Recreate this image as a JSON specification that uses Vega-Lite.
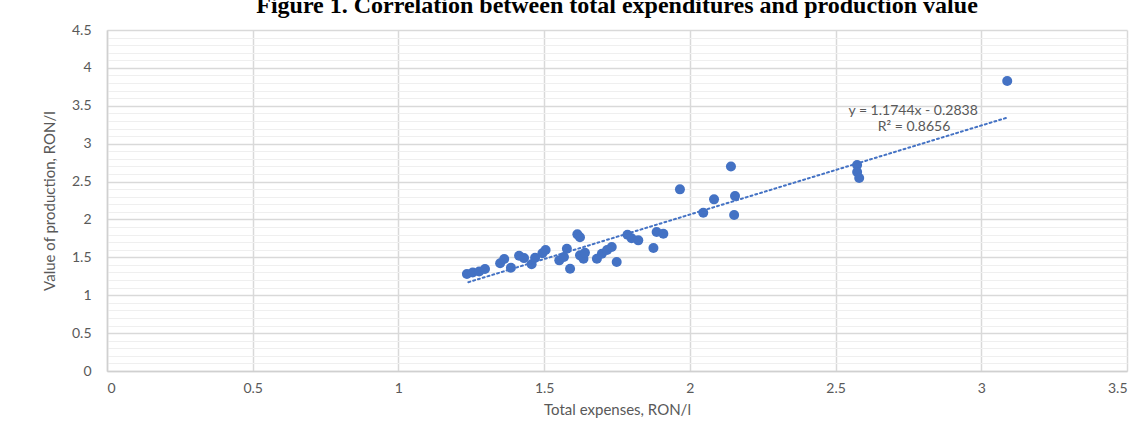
{
  "$schema": "https://vega.github.io/schema/vega-lite/v6.json",
  "width": 1020,
  "height": 341,
  "autosize": "none",
  "padding": {"left": 107, "top": 30, "right": 20, "bottom": 57},
  "background": "white",
  "title": {
    "text": "Figure 1. Correlation between total expenditures and production value",
    "font": "Liberation Serif",
    "fontSize": 24,
    "fontWeight": "bold",
    "color": "#000000",
    "frame": "group",
    "anchor": "middle",
    "baseline": "bottom",
    "offset": 0,
    "dy": 19
  },
  "datasets": {
    "points": [
      {"x": 1.235, "y": 1.28}, {"x": 1.255, "y": 1.30}, {"x": 1.277, "y": 1.313}, {"x": 1.297, "y": 1.346},
      {"x": 1.349, "y": 1.421}, {"x": 1.363, "y": 1.478}, {"x": 1.386, "y": 1.363}, {"x": 1.414, "y": 1.521},
      {"x": 1.431, "y": 1.49}, {"x": 1.457, "y": 1.408}, {"x": 1.469, "y": 1.495}, {"x": 1.494, "y": 1.553},
      {"x": 1.505, "y": 1.596}, {"x": 1.552, "y": 1.46}, {"x": 1.578, "y": 1.613}, {"x": 1.568, "y": 1.504},
      {"x": 1.589, "y": 1.35}, {"x": 1.614, "y": 1.803}, {"x": 1.623, "y": 1.764}, {"x": 1.623, "y": 1.526},
      {"x": 1.635, "y": 1.481}, {"x": 1.64, "y": 1.561}, {"x": 1.681, "y": 1.481}, {"x": 1.698, "y": 1.547},
      {"x": 1.716, "y": 1.596}, {"x": 1.732, "y": 1.636}, {"x": 1.749, "y": 1.438}, {"x": 1.786, "y": 1.798},
      {"x": 1.80, "y": 1.751}, {"x": 1.823, "y": 1.724}, {"x": 1.875, "y": 1.623}, {"x": 1.886, "y": 1.834},
      {"x": 1.909, "y": 1.811}, {"x": 1.966, "y": 2.397}, {"x": 2.046, "y": 2.088}, {"x": 2.083, "y": 2.265},
      {"x": 2.141, "y": 2.698}, {"x": 2.155, "y": 2.309}, {"x": 2.152, "y": 2.058}, {"x": 2.574, "y": 2.718},
      {"x": 2.574, "y": 2.625}, {"x": 2.581, "y": 2.546}, {"x": 3.089, "y": 3.826}
    ],
    "trend": [
      {"x": 1.24, "y": 1.172},
      {"x": 3.089, "y": 3.344}
    ],
    "labels": [
      {"x": 2.766, "y": 3.434, "label": "y = 1.1744x - 0.2838"},
      {"x": 2.769, "y": 3.223, "label": "R² = 0.8656"}
    ]
  },
  "layer": [
    {
      "data": {"name": "points"},
      "mark": {"type": "circle", "size": 100, "opacity": 1, "color": "#4472C4"},
      "encoding": {
        "x": {
          "field": "x", "type": "quantitative",
          "scale": {"domain": [0, 3.5], "nice": false, "zero": false},
          "axis": {
            "values": [0, 0.5, 1, 1.5, 2, 2.5, 3, 3.5],
            "format": "~g",
            "labelPadding": 10,
            "titlePadding": 7,
            "grid": true,
            "title": "Total expenses, RON/l"
          }
        },
        "y": {
          "field": "y", "type": "quantitative",
          "scale": {"domain": [0, 4.5], "nice": false, "zero": false},
          "axis": {
            "orient": "right",
            "values": [0.1,0.2,0.3,0.4,0.6,0.7,0.8,0.9,1.1,1.2,1.3,1.4,1.6,1.7,1.8,1.9,2.1,2.2,2.3,2.4,2.6,2.7,2.8,2.9,3.1,3.2,3.3,3.4,3.6,3.7,3.8,3.9,4.1,4.2,4.3,4.4],
            "grid": true, "gridColor": "#efefef", "gridWidth": 1.2,
            "labels": false, "ticks": false, "domain": false, "title": null
          }
        }
      }
    },
    {
      "data": {"name": "trend"},
      "mark": {"type": "line", "color": "#4472C4", "strokeWidth": 2, "strokeDash": [2, 3], "strokeCap": "round"},
      "encoding": {
        "x": {"field": "x", "type": "quantitative", "title": "Total expenses, RON/l"},
        "y": {
          "field": "y", "type": "quantitative",
          "axis": {
            "orient": "left",
            "values": [0, 0.5, 1, 1.5, 2, 2.5, 3, 3.5, 4, 4.5],
            "format": "~g",
            "title": "Value of production, RON/l",
            "grid": true
          }
        }
      }
    },
    {
      "data": {"name": "labels"},
      "mark": {"type": "text", "font": "Lato", "fontSize": 14, "color": "#595959", "align": "center", "baseline": "middle"},
      "encoding": {
        "x": {"field": "x", "type": "quantitative", "title": "Total expenses, RON/l"},
        "y": {"field": "y", "type": "quantitative", "axis": null},
        "text": {"field": "label"}
      }
    }
  ],
  "resolve": {"axis": {"y": "independent"}},
  "config": {
    "view": {"stroke": null},
    "axis": {
      "gridColor": "#d9d9d9",
      "gridWidth": 1.5,
      "domainColor": "#d0d0d0",
      "domainWidth": 1.5,
      "ticks": false,
      "labelFont": "Lato",
      "labelFontSize": 14,
      "labelColor": "#595959",
      "titleFont": "Lato",
      "titleFontSize": 15,
      "titleFontWeight": "normal",
      "titleColor": "#595959"
    },
    "axisLeft": {
      "labelPadding": 16,
      "titlePadding": 14
    }
  }
}
